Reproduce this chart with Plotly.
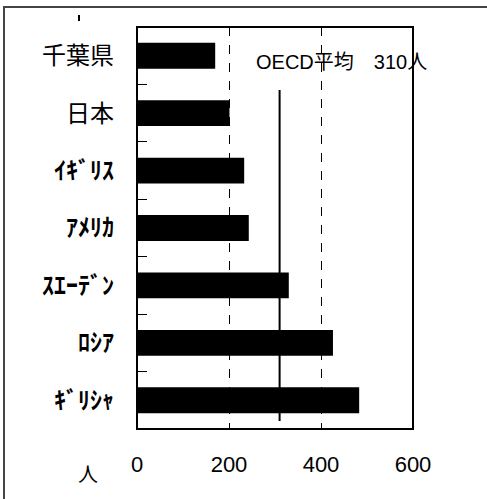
import plotly.graph_objects as go

categories = ["千葉県", "日本", "ｲｷﾞﾘｽ", "ｱﾒﾘｶ", "ｽｴｰﾃﾞﾝ", "ﾛｼｱ", "ｷﾞﾘｼｬ"]
values = [170, 201, 233, 243, 330, 426, 483]
bold_labels = [False, False, True, True, True, True, True]
oecd_avg = 310
x_ticks = [0, 200, 400, 600]
unit_label = "人"

ticktext = [f"<b>{c}</b>" if b else c for c, b in zip(categories, bold_labels)]

fig = go.Figure()
fig.add_trace(go.Bar(
    x=values, y=categories, orientation="h",
    marker=dict(color="black", line=dict(width=0)),
    showlegend=False, hoverinfo="skip",
))

W, H = 487, 499
pl, pr, pt, pb = 137, 413, 27, 429
L, T, R, B = pl, pt, W - pr, H - pb
pw, ph = pr - pl, pb - pt

def px(xp):
    return (xp - pl) / pw

def py(yp):
    return (pb - yp) / ph

shapes = [
    # OECD average line
    dict(type="line", xref="x", yref="paper", x0=oecd_avg, x1=oecd_avg,
         y0=py(421), y1=py(90), line=dict(color="black", width=2), layer="below"),
    # plot frame
    dict(type="rect", xref="paper", yref="paper", x0=0, x1=1, y0=0, y1=1,
         line=dict(color="black", width=2)),
    # outer border
    dict(type="rect", xref="paper", yref="paper", x0=px(4), x1=px(600),
         y0=py(600), y1=py(7), line=dict(color="#444", width=2)),
    # small stray mark
    dict(type="line", xref="paper", yref="paper", x0=px(79), x1=px(79),
         y0=py(21), y1=py(15), line=dict(color="black", width=2)),
]

annotations = [
    dict(text=f"OECD平均　{oecd_avg}人", xref="paper", yref="paper",
         x=px(254), y=py(62), xanchor="left", yanchor="middle", showarrow=False,
         font=dict(family="Liberation Sans, Noto Sans CJK JP", size=20, color="black")),
    dict(text=unit_label, xref="paper", yref="paper",
         x=px(88), y=py(473), xanchor="center", yanchor="middle", showarrow=False,
         font=dict(family="Noto Sans CJK JP", size=20, color="black")),
]

fig.update_layout(
    width=W, height=H,
    margin=dict(l=L, r=R, t=T, b=B, pad=0),
    paper_bgcolor="white", plot_bgcolor="white",
    bargap=0.55,
    shapes=shapes, annotations=annotations,
    xaxis=dict(
        range=[0, 600], tickvals=x_ticks, ticktext=[str(v) for v in x_ticks],
        showgrid=True, gridcolor="black", gridwidth=1, griddash="dash",
        showline=False,
        ticks="", zeroline=False,
        tickfont=dict(family="Liberation Sans", size=22, color="black"),
        ticklabelstandoff=20,
    ),
    yaxis=dict(
        categoryorder="array", categoryarray=categories,
        tickvals=categories, ticktext=ticktext,
        autorange="reversed",
        showline=False,
        ticks="inside", tickson="boundaries", ticklen=10, tickcolor="black", tickwidth=1,
        showgrid=False,
        tickfont=dict(family="Noto Sans CJK JP", size=24, color="black"),
        ticklabelstandoff=22,
    ),
)

fig.write_html("out.html", config={"displayModeBar": False},
               post_script="document.body.style.margin='0px';document.body.style.overflow='hidden';document.documentElement.style.overflow='hidden';")
